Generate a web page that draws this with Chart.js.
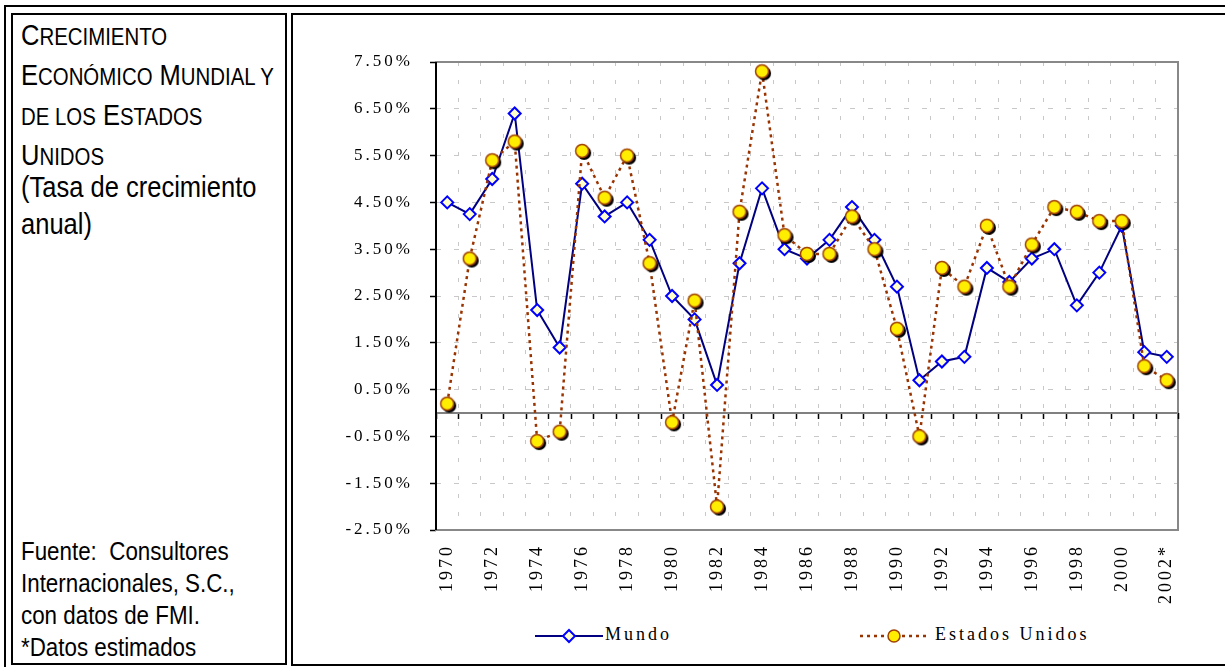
<!DOCTYPE html>
<html>
<head>
<meta charset="utf-8">
<script src="https://cdn.jsdelivr.net/npm/chart.js@4/dist/chart.umd.min.js"></script>
<style>
  body { margin:0; background:#fff; width:1225px; height:667px; overflow:hidden; position:relative; }
  .box { position:absolute; border:2px solid #000; box-sizing:border-box; }
  .txt { position:absolute; font-family:"Liberation Sans", Arial, sans-serif; color:#000; transform-origin:0 0; white-space:nowrap; }
  .sc { font-size:0.8em; }
  .leg { position:absolute; font-family:"Liberation Serif", "Times New Roman", serif; font-size:18px; letter-spacing:3px; color:#000; }
  #chart { position:absolute; left:292px; top:16px; }
</style>
</head>
<body>
<div class="box" style="left:4px;top:5px;width:1240px;height:680px"></div>
<div class="box" style="left:11px;top:13px;width:276px;height:652px"></div>
<div class="box" style="left:291px;top:13px;width:960px;height:653px"></div>

<div class="txt" style="left:21px;top:16px;font-size:29px;line-height:38px;transform:scaleX(0.88)">
  C<span class="sc">RECIMIENTO</span><br>
  E<span class="sc">CONÓMICO</span> M<span class="sc">UNDIAL Y</span><br>
  <span class="sc">DE LOS</span> E<span class="sc">STADOS</span><br>
  U<span class="sc">NIDOS</span>
</div>
<div class="txt" style="left:21px;top:169px;font-size:29px;line-height:37px;transform:scaleX(0.88)">
  (Tasa de crecimiento<br>
  anual)
</div>
<div class="txt" style="left:21px;top:535px;font-size:26px;line-height:32px;transform:scaleX(0.86)">
  Fuente:&nbsp; Consultores<br>
  Internacionales, S.C.,<br>
  con datos de FMI.<br>
  *Datos estimados
</div>

<canvas id="chart" width="933" height="600"></canvas>

<svg style="position:absolute;left:535px;top:627px" width="70" height="18">
  <line x1="0" y1="9" x2="68" y2="9" stroke="#000080" stroke-width="2"/>
  <polygon points="34,3 40,9 34,15 28,9" fill="#FFFFCC" stroke="#0000FF" stroke-width="2"/>
</svg>
<div class="leg" style="left:605px;top:624px">Mundo</div>
<svg style="position:absolute;left:858px;top:627px" width="74" height="18">
  <line x1="2" y1="9" x2="72" y2="9" stroke="#993300" stroke-width="2.5" stroke-dasharray="3,4"/>
  <circle cx="36" cy="9" r="6" fill="#FFEE00" stroke="#A04000" stroke-width="1.5"/>
</svg>
<div class="leg" style="left:935px;top:624px">Estados Unidos</div>

<script>
const years = ['1970','1971','1972','1973','1974','1975','1976','1977','1978','1979',
  '1980','1981','1982','1983','1984','1985','1986','1987','1988','1989',
  '1990','1991','1992','1993','1994','1995','1996','1997','1998','1999',
  '2000','2001','2002*'];
const mundo = [4.5,4.25,5.0,6.4,2.2,1.4,4.9,4.2,4.5,3.7,
  2.5,2.0,0.6,3.2,4.8,3.5,3.3,3.7,4.4,3.7,
  2.7,0.7,1.1,1.2,3.1,2.8,3.3,3.5,2.3,3.0,
  4.0,1.3,1.2];
const estadosUnidos = [0.2,3.3,5.4,5.8,-0.6,-0.4,5.6,4.6,5.5,3.2,
  -0.2,2.4,-2.0,4.3,7.3,3.8,3.4,3.4,4.2,3.5,
  1.8,-0.5,3.1,2.7,4.0,2.7,3.6,4.4,4.3,4.1,
  4.1,1.0,0.7];
const yMin = -2.5, yMax = 7.5, yStep = 1;

// yellow ball with black shadow for the US series
function ballImage() {
  const c = document.createElement('canvas');
  c.width = 20; c.height = 20;
  const g = c.getContext('2d');
  g.fillStyle = '#000';
  g.beginPath(); g.arc(12, 12, 7, 0, Math.PI * 2); g.fill();
  g.fillStyle = '#FFEE00'; g.strokeStyle = '#A04000'; g.lineWidth = 1.5;
  g.beginPath(); g.arc(10, 10, 6.5, 0, Math.PI * 2); g.fill(); g.stroke();
  return c;
}
const ball = ballImage();

const spacingPlugin = {
  id: 'spacing',
  beforeLayout(chart) { chart.ctx.letterSpacing = '3px'; },
  beforeDraw(chart) { chart.ctx.letterSpacing = '3px'; }
};

const framePlugin = {
  id: 'frame',
  beforeDatasetsDraw(chart) {
    const {ctx, chartArea: a, scales: {x, y}} = chart;
    ctx.save();
    ctx.strokeStyle = '#888';
    ctx.lineWidth = 2;
    ctx.strokeRect(a.left, a.top, a.right - a.left, a.bottom - a.top);
    // zero line with tick marks
    const y0 = y.getPixelForValue(0);
    const step = x.width / years.length;
    ctx.strokeStyle = '#000';
    ctx.lineWidth = 1.5;
    ctx.beginPath();
    for (let i = 0; i <= years.length; i++) {
      const px = Math.round(x.left + i * step) + 0.5;
      ctx.moveTo(px, y0); ctx.lineTo(px, y0 + 6);
    }
    ctx.stroke();
    ctx.strokeStyle = '#808080';
    ctx.lineWidth = 2;
    ctx.beginPath(); ctx.moveTo(a.left, y0); ctx.lineTo(a.right, y0); ctx.stroke();
    // left axis
    ctx.strokeStyle = '#000';
    ctx.beginPath(); ctx.moveTo(a.left, a.top); ctx.lineTo(a.left, a.bottom); ctx.stroke();
    ctx.restore();
  }
};

new Chart(document.getElementById('chart'), {
  type: 'line',
  data: {
    labels: years,
    datasets: [
      { label: 'Mundo', data: mundo, order: 1,
        borderColor: '#000080', borderWidth: 2, tension: 0,
        pointStyle: 'rectRot', pointRadius: 6, pointBorderWidth: 2,
        pointBorderColor: '#0000FF', pointBackgroundColor: '#FFFFCC' },
      { label: 'Estados Unidos', data: estadosUnidos, order: 0,
        borderColor: '#993300', borderWidth: 2.5, borderDash: [3, 4], tension: 0,
        pointStyle: ball, pointRadius: 8 }
    ]
  },
  options: {
    responsive: false, animation: false, devicePixelRatio: 1,
    layout: { padding: { top: 46, right: 47, left: 0, bottom: 0 } },
    plugins: { legend: { display: false }, tooltip: { enabled: false } },
    scales: {
      x: {
        offset: true,
        grid: { offset: true, drawTicks: false, color: '#c8c8c8', lineWidth: 1 },
        border: { display: false, dash: [4, 14] },
        ticks: {
          autoSkip: false, minRotation: 90, maxRotation: 90, padding: 14,
          color: '#000', font: { family: '"Liberation Serif", "Times New Roman", serif', size: 18 },
          callback: (v, i) => i % 2 === 0 ? years[i] : ''
        },
        afterFit(s) { s.height = 86; }
      },
      y: {
        min: yMin, max: yMax,
        grid: { color: '#c8c8c8', lineWidth: 1, tickLength: 6, tickColor: '#000', tickBorderDash: [], tickWidth: 1.5 },
        border: { display: false, dash: [5, 13] },
        ticks: {
          stepSize: yStep, padding: 17, color: '#000',
          font: { family: '"Liberation Serif", "Times New Roman", serif', size: 17 },
          callback: v => v.toFixed(2) + '%'
        },
        afterFit(s) { s.width = 144; }
      }
    }
  },
  plugins: [spacingPlugin, framePlugin]
});
</script>
</body>
</html>
